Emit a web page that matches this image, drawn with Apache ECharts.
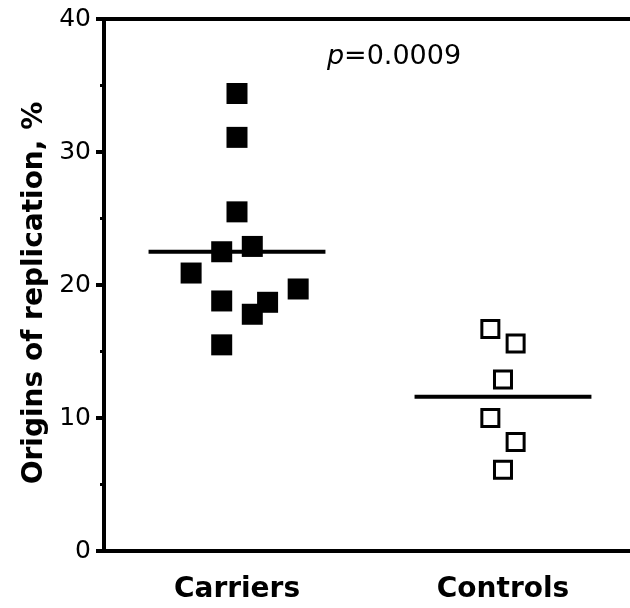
<!DOCTYPE html>
<html>
<head>
<meta charset="utf-8">
<script src="https://cdn.jsdelivr.net/npm/echarts@6/dist/echarts.min.js"></script>
<style>
  html, body { margin: 0; padding: 0; background: #fff; }
  #chart { width: 630px; height: 608px; }
</style>
</head>
<body>
<div id="chart"></div>
<script>
// values
const groups = ['Carriers', 'Controls']
const groupPos = [1, 3]
const carriers = [34.4, 31.1, 25.5, 22.5, 22.9, 20.9, 18.8, 18.7, 17.8, 19.7, 15.5]
const carriersJitter = [0, 0, 0, -1, 1, -3, -1, 2, 1, 4, -1]
const controls = [16.7, 15.6, 12.9, 10.0, 8.2, 6.1]
const controlsJitter = [-1, 1, 0, -1, 1, 0]
const means = [22.5, 11.6]
const yTicks = [0, 10, 20, 30, 40]
const pText = '0.0009'

const font = 'DejaVu Sans'
const carrierStep = 0.115
const controlStep = 0.095
const halfWidth = 0.665

const chart = echarts.init(document.getElementById('chart'))

const carrierPts = carriers.map((v, i) => [groupPos[0] + carriersJitter[i] * carrierStep, v])
const controlPts = controls.map((v, i) => [groupPos[1] + controlsJitter[i] * controlStep, v])
const meanLine = (i) => [[groupPos[i] - halfWidth, means[i]], [groupPos[i] + halfWidth, means[i]]]

const option = {
  animation: false,
  backgroundColor: '#fff',
  grid: { left: 104, right: 0, top: 19, bottom: 57 },
  xAxis: [
    {
      type: 'value',
      min: 0,
      max: 3.955,
      interval: 1,
      axisLine: { lineStyle: { color: '#000', width: 4, cap: 'square' } },
      axisTick: { show: false },
      splitLine: { show: false },
      axisLabel: {
        margin: 25,
        color: '#000',
        fontFamily: font,
        fontWeight: 'bold',
        fontSize: 28,
        showMaxLabel: false,
        formatter: v => {
          const k = groupPos.indexOf(v)
          return k >= 0 ? groups[k] : ''
        }
      }
    },
    {
      type: 'value',
      position: 'top',
      min: 0,
      max: 3.955,
      axisLine: { lineStyle: { color: '#000', width: 4, cap: 'square' } },
      axisTick: { show: false },
      axisLabel: { show: false },
      splitLine: { show: false }
    }
  ],
  yAxis: {
    type: 'value',
    min: yTicks[0],
    max: yTicks[yTicks.length - 1],
    interval: 10,
    name: 'Origins of replication, %',
    nameLocation: 'middle',
    nameGap: 52,
    nameTextStyle: {
      color: '#000', fontFamily: font, fontWeight: 'bold', fontSize: 28,
      padding: [0, 16, 0, 0]
    },
    axisLine: { lineStyle: { color: '#000', width: 4, cap: 'square' } },
    axisTick: { length: 8, lineStyle: { color: '#000', width: 4 } },
    minorTick: { show: true, splitNumber: 2, length: 4, lineStyle: { color: '#000', width: 3 } },
    splitLine: { show: false },
    axisLabel: { margin: 13, color: '#000', fontFamily: font, fontSize: 25 }
  },
  graphic: [{
    type: 'text',
    x: 394,
    y: 57,
    style: {
      text: '{i|p}=' + pText,
      fill: '#000',
      font: '27px "DejaVu Sans"',
      align: 'center',
      verticalAlign: 'middle',
      rich: { i: { fontStyle: 'italic', fontFamily: font, fontSize: 27 } }
    }
  }],
  series: [
    {
      type: 'line', data: meanLine(0), symbol: 'none', z: 1,
      lineStyle: { color: '#000', width: 4 }
    },
    {
      type: 'line', data: meanLine(1), symbol: 'none', z: 1,
      lineStyle: { color: '#000', width: 4 }
    },
    {
      name: groups[0], type: 'scatter', data: carrierPts, z: 3,
      symbol: 'rect', symbolSize: 21,
      itemStyle: { color: '#000', opacity: 1 }
    },
    {
      name: groups[1], type: 'scatter', data: controlPts, z: 3,
      symbol: 'rect', symbolSize: 17,
      itemStyle: { color: '#fff', borderColor: '#000', borderWidth: 3, opacity: 1 }
    }
  ]
}

chart.setOption(option)
</script>
</body>
</html>
